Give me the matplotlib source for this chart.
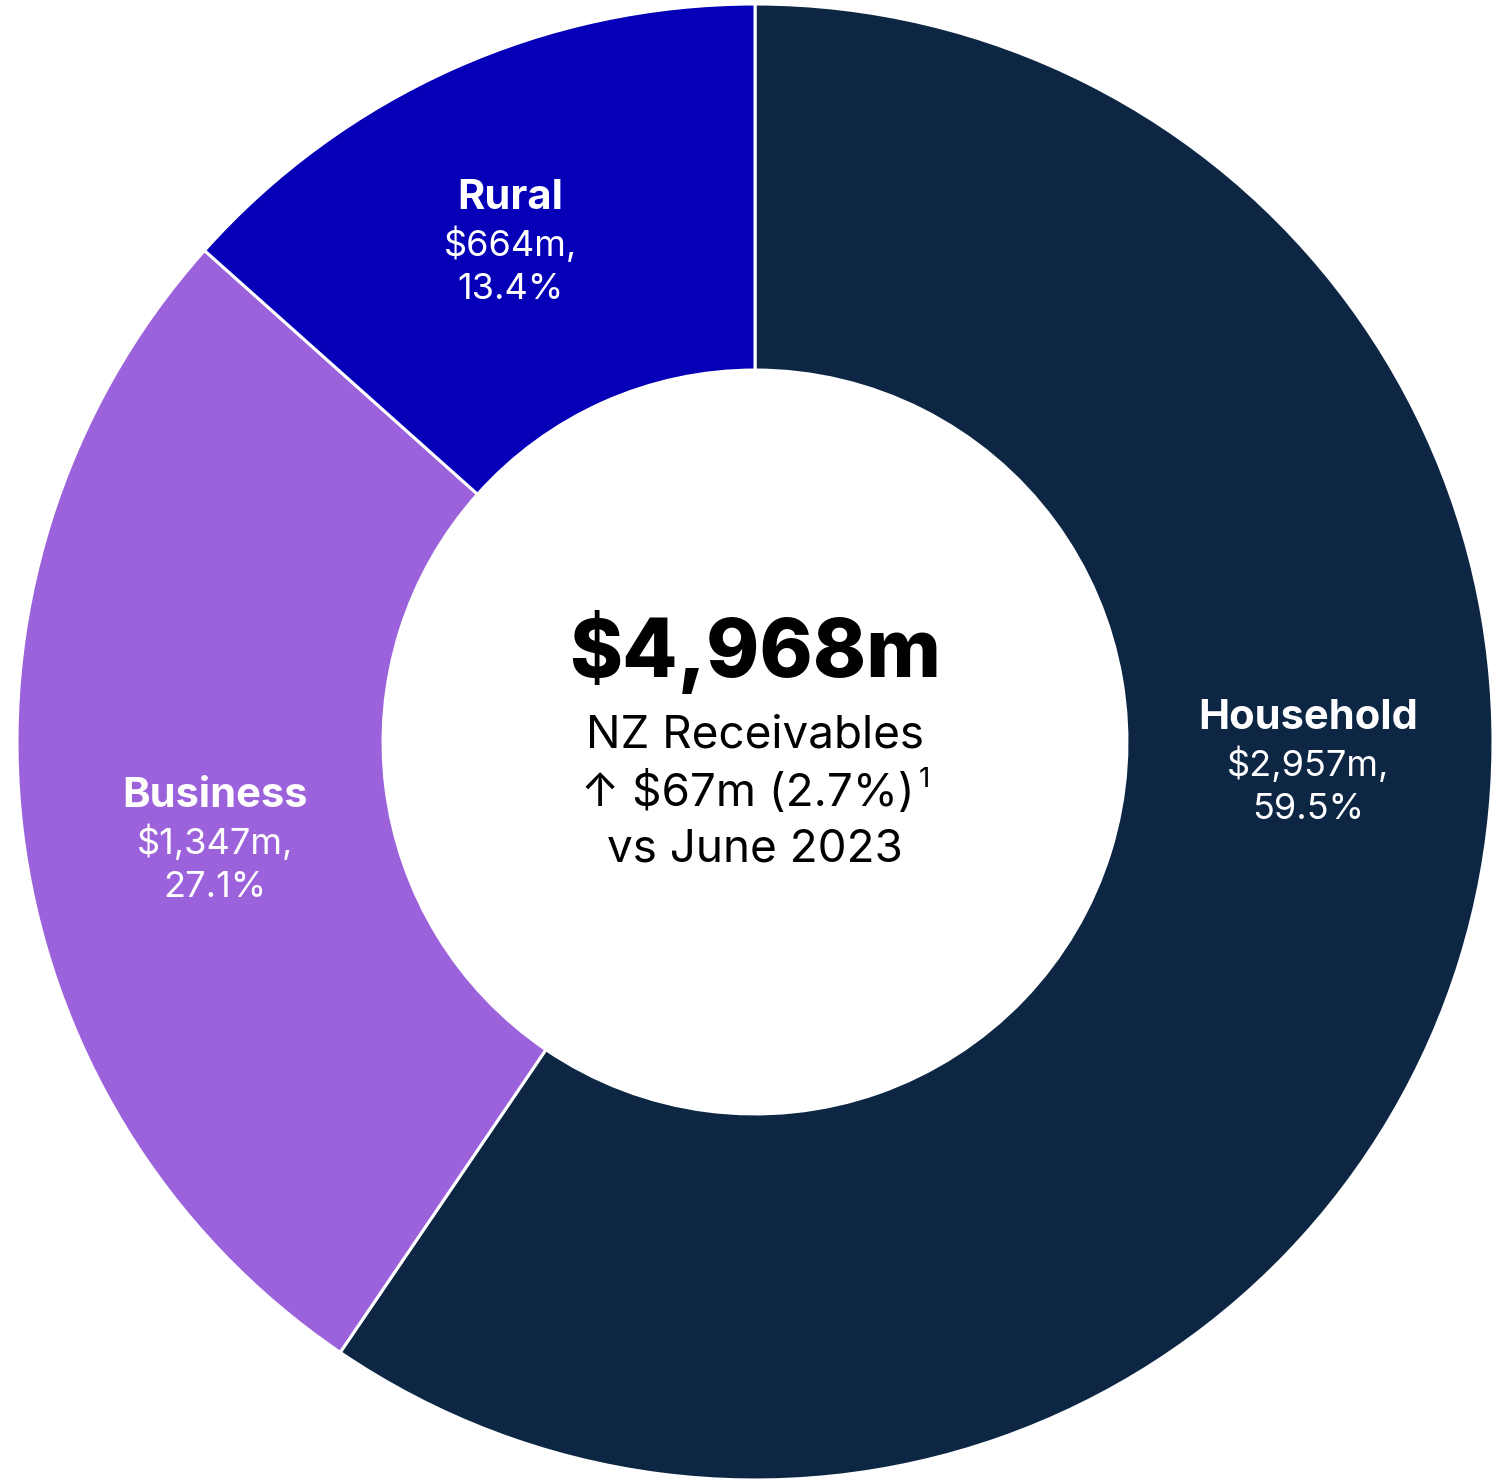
import matplotlib.pyplot as plt

plt.rcParams['font.family'] = ['Inter', 'DejaVu Sans']
plt.rcParams['text.parse_math'] = False

segments = ["Household", "Business", "Rural"]
amounts = [2957, 1347, 664]          # $m
shares = [59.5, 27.1, 13.4]          # %
colours = ["#0d2644", "#9b62db", "#0500b7"]

total = "$4,968m"
subtitle = "NZ Receivables"
change = "\u2191 $67m (2.7%)"
period = "vs June 2023"

W, H = 1493, 1484
cx, cy, R = 755, 742, 738   # centre and outer radius in pixels

fig = plt.figure(figsize=(W / 100, H / 100), dpi=100)
ax = fig.add_axes([0, 0, 1, 1])

ax.pie(shares, colors=colours, startangle=90, counterclock=False,
       radius=1, wedgeprops=dict(width=0.496, edgecolor="white", linewidth=2.2))

# pie() resets the limits, so fix them afterwards: 1 unit == R pixels
ax.set_xlim(-cx / R, (W - cx) / R)
ax.set_ylim(-(H - cy) / R, cy / R)
ax.set_aspect("auto")
ax.set_axis_off()


def px(x, y):
    return (x - cx) / R, (cy - y) / R


# segment labels: name in bold, value and share underneath
label_pos = {"Household": (1308, 718), "Business": (215, 796), "Rural": (510, 198)}
for name, amt, pct in zip(segments, amounts, shares):
    x, y = px(*label_pos[name])
    ax.text(x, y, name, color="white", fontsize=30, fontweight="bold",
            ha="center", va="center")
    ax.text(x, y - 28 / R, f"${amt:,}m,\n{pct}%", color="white", fontsize=26,
            fontweight="normal", ha="center", va="top", linespacing=1.4)

# centre summary
x, y = px(755, 652)
ax.text(x, y, total, fontsize=58, fontweight="heavy", ha="center", va="center", color="black")
x, y = px(755, 735)
ax.text(x, y, subtitle, fontsize=33, ha="center", va="center", color="black")
x, y = px(748, 793)
t = ax.text(x, y, change, fontsize=33, ha="center", va="center", color="black")
ax.annotate("1", xy=(1, 1.08), xycoords=t, xytext=(3, 0), textcoords="offset points",
            fontsize=20, ha="left", va="top", color="black")
x, y = px(755, 850)
ax.text(x, y, period, fontsize=33, ha="center", va="center", color="black")

fig.savefig("out.png", dpi=100, facecolor="white")
